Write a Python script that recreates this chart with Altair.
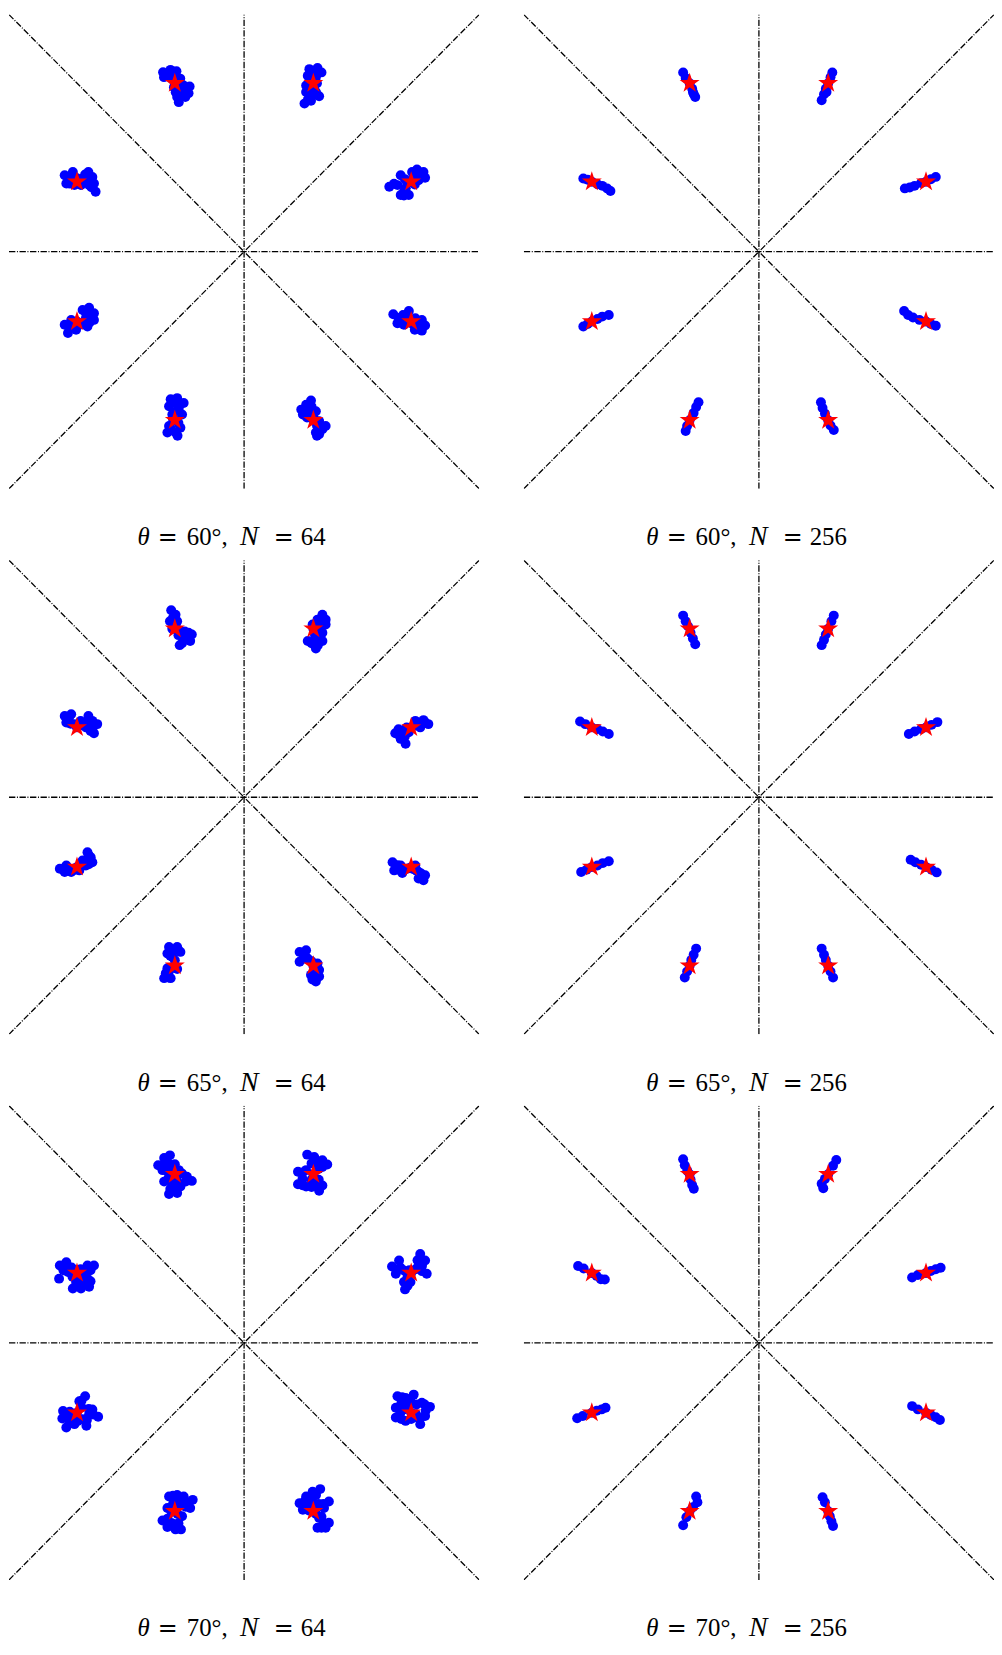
import altair as alt
import pandas as pd

# Ideal 8-PSK symbols (I, Q), order k = 0..7 at 22.5 + 45k degrees
STAR_I = [0.924, 0.383, -0.383, -0.924, -0.924, -0.383, 0.383, 0.924]
STAR_Q = [0.383, 0.924, 0.924, 0.383, -0.383, -0.924, -0.924, -0.383]
BOUND = 1.3  # half extent of the I/Q plane shown

THETAS = [60, 60, 65, 65, 70, 70]
NS = [64, 256, 64, 256, 64, 256]

# Received samples: offsets (dI, dQ) from each symbol, in hundredths
S60_64 = [
    [(-12.1, -2.7), (-7.6, -1.8), (-5.8, 3.6), (-4, -5.4), (-1.3, -7.2), (0.5, 5.4), (3.2, 6.8), (6.8, 5.4), (7.7, 2.2), (4.1, 0.9), (-2.2, -0.9), (-5.8, -7.2), (0, 0),
     (-9.5, -1), (-3.5, 1.5), (1.5, 2.5), (2, -1.5), (-3, -3.5), (5, 3.5), (-4, -7.5)],
    [(-2.2, 7.7), (2.3, 8.3), (4.5, 5.9), (-3.1, 4.1), (1.4, 3.2), (-4, -1.3), (0.5, -3.1), (-4, -4.9), (-0.4, -6.7), (3.2, -7.2), (-1.3, -9.7), (-4.9, -11.2), (0, 0),
     (0, 6), (-1, 1), (2, 0), (-2, -2.5), (-2, -6), (1.5, -5), (-3, -9)],
    [(-6.5, 6), (-2.4, 7.3), (0.9, 6.5), (-6, 3.3), (-1.5, 2.4), (2.2, 0.5), (-0.5, -2.2), (4.9, -1.3), (8.2, -1.8), (4, -4.9), (7.6, -5.5), (1.3, -7.6), (5.8, -7.6), (2.2, -10.4), (0, 0),
     (-4, 5), (0, 4), (3, 2.5), (2, -3), (6, -3.5), (4, -7), (0.5, -5)],
    [(-6.8, 3.6), (-5.9, -0.9), (-2.3, 5.4), (-1.4, -1.8), (3.1, 1.8), (2.2, -1.8), (6.3, 5.4), (8.5, 2.7), (9.4, -0.9), (6.7, -1.8), (10.3, -5.4), (0, 0),
     (-4, 2), (0, 2), (-4, -1), (4.5, 4), (5, 0), (8, -3)],
    [(-6.8, -1.8), (-5, -6.3), (-3.2, 0.9), (-0.5, -4.5), (3.1, 6.3), (6.7, 7.6), (9.4, 4.5), (9.4, 0.9), (4.9, 1.8), (5.8, -2.7), (2.2, -0.9), (0, 0),
     (-4, -3), (-2, -1.5), (1, -2), (5, 4.5), (7.5, 3), (7, -0.5), (3.5, -1.5)],
    [(-2.3, 11.5), (1.3, 12.1), (4.9, 9.4), (-3.2, 7.6), (2.2, 6.7), (-1.4, 3.1), (4, 3.1), (-3.2, -3.2), (-4.1, -6.8), (0.4, -6.8), (3.1, -4.1), (0, 0),
     (0, 9.5), (1, 5), (-1, 0.5), (2, -1.5), (-2, -5), (1.5, -8.5)],
    [(-6.7, 5.8), (-4, 8.5), (-1.3, 10.8), (-5.8, 3.1), (-2.2, 4), (1.4, 4.9), (3.2, -0.5), (5, -5), (6.8, -3.2), (1.4, -6.8), (3.2, -7.7), (0, 0),
     (-4, 6), (-1, 7.5), (0, 2), (-3.5, 1.5), (2, -3), (4, -5), (2, -8.5)],
    [(-9.9, 4), (-7.6, -0.9), (-4.5, 3.6), (-1.3, 5.8), (-4, -1.8), (2.3, 1.8), (5.9, 0.9), (7.7, -2.2), (4.1, -3.6), (5.9, -5), (0, 0),
     (-7, 2), (-2.5, 2), (0, -1), (3, -1), (6, -2), (2, -4.5), (-6.5, -0.5)],
]
S60_256 = [
    [(-11.7, -3.6), (-9, -3.1), (-6.3, -2.2), (-2.7, -0.7), (0, 0), (2.7, 1.4), (5.4, 2.7)],
    [(2.3, 5.9), (1.3, 3.2), (0, 0), (-1.3, -3.1), (-2.3, -6.1), (-3.6, -9.4), (-0.9, -4.9)],
    [(-3.6, 5.9), (-2.2, 2.9), (0, 0), (1.4, -3.1), (2.3, -6.1), (3.1, -7.6), (1.8, -4.9)],
    [(-4.7, 1.8), (-2.3, 1.1), (0, 0), (3.1, -1.3), (5.8, -2.2), (8.5, -3.6), (10.3, -5)],
    [(-4.7, -2.7), (-2.3, -1.4), (0, 0), (3.1, 1.4), (5.8, 2.7), (9.4, 3.6)],
    [(4.9, 9.9), (3.6, 7.2), (2.2, 4), (0, 0), (-1.4, -3.2), (-2.2, -5.9)],
    [(-4, 9.9), (-3.1, 6.7), (-1.8, 3.6), (0, 0), (1.3, -2.9), (3.1, -5.4)],
    [(-12.1, 5.8), (-9.9, 3.6), (-7.2, 2.2), (-3.6, 0.9), (0, 0), (2.7, -1.4), (5.4, -2.3)],
]
S65_64 = [
    [(-8.8, -3.2), (-5.8, -6.3), (-3.1, -9), (-4.9, -1.8), (-1.3, -2.7), (2.3, 3.6), (6.8, 4), (9.5, 1.8), (5, 0), (0, 0),
     (-6.5, -4.5), (-3.5, -5), (-2.5, 0), (2.5, 1), (4.5, 2.5), (7.5, 3), (-7, -1)],
    [(5, 7.7), (6.8, 5), (2.3, 5), (-0.4, 2.3), (6.8, 2.3), (0.5, -2.2), (5, -2.2), (-3.1, -6.7), (0.5, -8.5), (5, -6.7), (1.4, -10.8), (0, 0),
     (4, 5.5), (2.5, 2.5), (3, 0), (1, -4.5), (3, -5), (-1, -8), (2.5, -9)],
    [(-2, 10.1), (0.4, 7.7), (-2.7, 4.1), (1.3, 4.1), (-1.4, 0), (3.1, -1.3), (7.6, -2.2), (9.4, -3.1), (4.9, -5.8), (8.5, -6.7), (2.7, -9), (0, 0),
     (-1, 6), (0.5, 2), (2, -3.5), (6, -4), (5.5, -1.5), (4, -8), (7, -4.5)],
    [(-6.8, 6.3), (-3.2, 7.2), (-5.9, 2.7), (-1.4, 1.8), (1.3, 0.9), (6.3, 6.3), (8.5, 3.6), (11.2, 1.8), (7.6, 0), (9.4, -3.2), (0, 0),
     (-4.5, 5), (-3.5, 2), (2, 3.5), (4, 2.5), (5, 0), (9, 0.5), (7.5, -2)],
    [(-9.5, -0.9), (-5.9, 0.9), (-3.2, -2.7), (-6.8, -2.7), (1.3, -1.8), (3.1, 3.6), (5.8, 8.1), (7.6, 5.4), (8.5, 2.7), (4.9, 0.9), (0, 0),
     (-7.5, -1), (-4.5, -1), (-1, -1.5), (2, 1), (4.5, 3), (6.5, 6.5), (6.5, 1.5)],
    [(-3.2, 10.3), (1.3, 10.3), (3.1, 7.6), (-4.1, 6.7), (-1.4, 4.9), (-5, -4.1), (-5.9, -6.8), (-2.3, -6.8), (1.3, -1.8), (-4.1, -1.4), (0, 0),
     (-1, 8.5), (2, 8.5), (-2.5, 5.5), (0, 3), (-2, -1.5), (-3.5, -4), (-3.5, -6.5)],
    [(-7.6, 7.6), (-4, 8.5), (-7.6, 2.2), (-3.1, 4), (2.3, 1.3), (3.2, -2.3), (-1.3, -5), (1.4, -8.6), (3.2, -5.9), (0, 0),
     (-5.5, 6), (-5, 4), (-1, 2.5), (1, 0), (0.5, -2.5), (1, -6.5), (-0.5, -7.5)],
    [(-10.3, 2.7), (-9.4, -1.8), (-5.8, 0.9), (-4.9, -3.2), (-2.2, -0.9), (2.3, 0.9), (4.1, -2.7), (7.7, -4.5), (4.1, -6.3), (6.8, -7.2), (0, 0),
     (-7.5, 1), (-7, -1.5), (-4, -1), (1, -1), (3, -2), (5.5, -3.5), (5.5, -6)],
]
S65_256 = [
    [(-9.5, -3.6), (-6.3, -2.2), (-2.7, -0.9), (0, 0), (3.1, 1.4), (6.3, 2.9)],
    [(3.1, 7.2), (1.8, 4.1), (0, 0), (-1.3, -3.1), (-2.3, -6.1), (-3.6, -9)],
    [(-3.6, 7.2), (-2.2, 4.1), (-0.9, 1.4), (0.5, -2.2), (1.8, -5.4), (3.1, -8.5)],
    [(-6.5, 3.2), (-3.6, 1.8), (0, 0), (3.1, -0.9), (6.1, -2.2), (9.4, -3.6)],
    [(-5.9, -2.7), (-2.9, -1.4), (0, 0), (3.1, 0.9), (6.1, 2.2), (9.4, 3.2)],
    [(3.6, 9.4), (2.2, 6.1), (0.9, 3.1), (0, 0), (-1.4, -3.2), (-2.7, -6.5)],
    [(-3.6, 9.4), (-2.3, 6.1), (-1.3, 3.1), (0, 0), (1.3, -3.2), (2.7, -6.5)],
    [(-8.5, 4), (-5.9, 2.7), (-2.7, 1.3), (0, 0), (3.1, -1.4), (5.9, -2.9)],
]
S70_64 = [
    [(-10.6, 3.6), (-6.7, 6.8), (-8.5, -0.4), (-4, 1.4), (5, 10.4), (7.7, 6.8), (8.6, -0.4), (4.1, 4.1), (-4, -4.9), (-3.4, -9), (-0.4, -4.9), (0, 0),
     (-6, 3), (-1, 1.5), (2.5, 2), (3.5, 7), (6, 4), (6, 1), (-2, -2), (-2, -7)],
    [(-3.4, 10.8), (0.5, 9.5), (5, 7.7), (7.7, 5.4), (-8.5, 1.4), (-4, 2.3), (-8.5, -5.4), (-4, -6.7), (1.4, -5.8), (5, -6.1), (3.2, -9), (0, 0),
     (-1, 6), (2.5, 7), (5, 4), (-6, 1), (-6, -2.5), (-6, -6), (-1, -3), (-1, -7), (3, -3), (3, 3)],
    [(-9.2, 5), (-5.9, 9), (-2.7, 10.4), (-6.8, 2.3), (-2.3, 5), (2.2, 2.3), (6.7, -1.3), (9.4, -3.6), (-5.9, -4), (-1.4, -5.4), (3.1, -6.7), (-3.2, -10.8), (1.3, -10.3), (0, 0),
     (-7, 4.5), (-4, 6.5), (-4.5, 2), (0, 5.5), (-0.5, 2), (4, 0.5), (-3.5, -2), (1, -2.5), (-2.5, -8), (0, -8), (6, -4)],
    [(-9.5, 4.1), (-5.9, 5.9), (-9.9, -3.1), (-5, 0.5), (-0.5, -4.9), (-2.3, -8.5), (2.2, -8.5), (6.7, -7.6), (5.8, -3.1), (9.4, 4.1), (5.8, 4.1), (4, 0.5), (0, 0),
     (-7.5, 1.5), (-7.5, 4), (-3, 3), (-2.5, -2), (0.5, -6), (3.5, -5.5), (3, -2.5), (7.5, 1.5), (7.5, -4.5), (2, 2)],
    [(4.5, 9), (1.3, 6.3), (-7.7, 0.9), (-8.1, -3.2), (-5.9, -8.1), (-1.4, -6.3), (3.1, -3.6), (5.2, -7.2), (8.5, 1.8), (11.7, -2.2), (6.7, -0.9), (0, 0),
     (2.5, 6.5), (2.5, 3), (-4, 0.5), (-4.5, -3), (-4, -6), (0.5, -4.5), (5.5, -4), (6.5, 2), (9, -1), (-1.5, -1.5)],
    [(-3.2, 8.1), (1.3, 9), (4.9, 8.1), (9.9, 6.3), (8.5, 1.8), (4, -2.7), (-4.1, 1.8), (-6.8, -5), (-4.1, -8.6), (0.4, -9.9), (3.4, -9.9), (0, 0),
     (-1, 8.5), (3, 7), (7, 5), (6, 2.5), (2, 4), (-1, 4), (-2, 0), (1.5, -1.5), (-4, -4), (-1.5, -6.5), (2, -6.5)],
    [(-0.4, 10.8), (3.8, 12.2), (-4, 8.1), (-7.6, 4.5), (-5.8, 0.9), (8.6, 5.4), (5.9, 1.8), (3.2, -3.6), (8.6, -6.3), (2.3, -9), (6.8, -9), (0, 0),
     (1.5, 9), (-2, 7.5), (-4.5, 6), (-2.5, 3.5), (0, 4.5), (3, 4), (5.5, 4), (-2.5, 0.5), (1.5, -1.5), (4.5, -3), (5.5, -6.5), (4.5, -9)],
    [(-7.6, 9), (-3.1, 8.1), (1.4, 9.9), (-8.5, 2.7), (-8.5, -2.7), (-3.1, -4.5), (5, -6.3), (7.7, -1.8), (10.4, 3.2), (5.9, 5.4), (2.7, -0.9), (-4, 1.8), (0, 0),
     (-5, 8.5), (-0.5, 7.5), (-5.5, 5), (-1, 4.5), (3, 4.5), (7.5, 4.5), (-6, 0), (-5.5, -3.5), (0, -3.5), (3, -2.5), (5, -3), (8, 1)],
]
S70_256 = [
    [(-7.7, -2.5), (-4.5, -1.1), (0, 0), (2.7, 1.1), (5.4, 2), (8.1, 2.9)],
    [(4.5, 7.9), (2.7, 4.7), (0, 0), (-1.8, -2.5), (-3.6, -5.2), (-2.7, -7.6)],
    [(-3.6, 8.3), (-2.7, 5), (-1.3, 2), (0, 0), (0.5, -2.9), (1.4, -5.8), (2.3, -7.9)],
    [(-7.6, 3.8), (-4.5, 2.5), (0, 0), (2.7, -1.6), (5, -3.4), (7.2, -3.6)],
    [(-8.1, -3.1), (-5, -1.8), (0, 0), (2.7, 1.1), (5.4, 1.8), (7.6, 2.7)],
    [(3.6, 8.1), (4.3, 5), (1.8, 2.2), (0, 0), (-1.8, -3.2), (-3.6, -7.6)],
    [(-3.1, 7.7), (-1.8, 5), (0, 0), (0.9, -2.7), (1.8, -5.4), (2.7, -8.1)],
    [(-7.7, 3.6), (-4.5, 1.8), (0, 0), (2.7, -1.3), (5.4, -2.5), (7.7, -4)],
]
SAMPLES = [S60_64, S60_256, S65_64, S65_256, S70_64, S70_256]

W, H = 474, 478
STAR_PATH = ("M0,-1L0.2245,-0.309L0.951,-0.309L0.363,0.118L0.588,0.809L0,0.382"
             "L-0.588,0.809L-0.363,0.118L-0.951,-0.309L-0.2245,-0.309Z")
FONT = "Liberation Serif"


def panel(samples, theta, n):
    rows = []
    for k, cluster in enumerate(samples):
        for dI, dQ in cluster:
            rows.append({"I": STAR_I[k] + dI / 100.0, "Q": STAR_Q[k] + dQ / 100.0})
    pts = pd.DataFrame(rows)
    stars = pd.DataFrame({"I": STAR_I, "Q": STAR_Q})
    b = BOUND
    lines = pd.DataFrame({
        "x1": [-b, 0, -b, -b], "y1": [0, -b, -b, b],
        "x2": [b, 0, b, b], "y2": [0, b, b, -b],
    })
    xs = alt.Scale(domain=[-b, b], nice=False, zero=False)
    ys = alt.Scale(domain=[-b, b], nice=False, zero=False)

    rules = alt.Chart(lines).mark_rule(
        color="black", strokeWidth=1.3, strokeDash=[6.4, 1.6, 1, 1.6], clip=True
    ).encode(
        x=alt.X("x1:Q", scale=xs, axis=None),
        y=alt.Y("y1:Q", scale=ys, axis=None),
        x2="x2:Q", y2="y2:Q",
    )
    dots = alt.Chart(pts).mark_point(
        shape="circle", filled=True, color="#0000ff", opacity=1, size=100
    ).encode(
        x=alt.X("I:Q", scale=xs, axis=None),
        y=alt.Y("Q:Q", scale=ys, axis=None),
    )
    star = alt.Chart(stars).mark_point(
        shape=STAR_PATH, filled=True, color="#ff0000", opacity=1, size=450
    ).encode(
        x=alt.X("I:Q", scale=xs, axis=None),
        y=alt.Y("Q:Q", scale=ys, axis=None),
    )

    width = 191 if n == 64 else 203
    left = W / 2 - 12 - width / 2
    pieces = [
        ("\u03b8", "italic", 0, FONT, 25),
        ("=", "normal", 20.5, "DejaVu Serif", 24),
        (f"{theta}\u00b0,", "normal", 49.7, FONT, 25),
        ("N", "italic", 103.5, FONT, 28),
        ("=", "normal", 137.5, "DejaVu Serif", 24),
        (str(n), "normal", 164.7, FONT, 25),
    ]
    texts = []
    for txt, style, off, font, fs in pieces:
        texts.append(
            alt.Chart(alt.Data(values=[{"t": txt}])).mark_text(
                align="left", baseline="alphabetic", font=font, fontSize=fs,
                fontStyle=style, fontWeight="normal", color="black"
            ).encode(
                x=alt.value(left + off), y=alt.value(H + 57), text="t:N"
            )
        )
    return alt.layer(rules, dots, star, *texts).properties(width=W, height=H)


panels = [panel(SAMPLES[i], THETAS[i], NS[i]) for i in range(6)]
chart = alt.concat(
    *panels, columns=2, spacing={"row": 72, "column": 45}, bounds="flush"
).properties(
    padding={"left": 1, "top": 0, "right": 0, "bottom": 0}
).configure_view(stroke=None)

chart.save("out.html", embed_options={"renderer": "svg", "actions": False})
